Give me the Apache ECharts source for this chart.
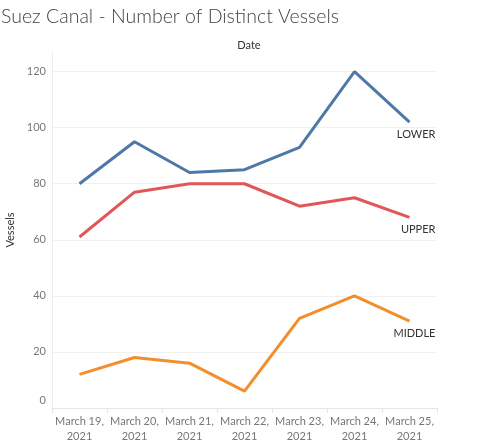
<!DOCTYPE html>
<html><head><meta charset="utf-8">
<script src="https://cdn.jsdelivr.net/npm/echarts@6/dist/echarts.min.js"></script>
<style>html,body{margin:0;padding:0;background:#fff}#c{width:500px;height:448px}</style>
</head><body><div id="c"></div>
<script>
const categories = ['March 19,\n2021','March 20,\n2021','March 21,\n2021','March 22,\n2021','March 23,\n2021','March 24,\n2021','March 25,\n2021'];
const lower = [80, 95, 84, 85, 93, 120, 102];
const upper = [61, 77, 80, 80, 72, 75, 68];
const middle = [12, 18, 16, 6, 32, 40, 31];
const seriesNames = ['LOWER', 'UPPER', 'MIDDLE'];
const seriesColors = ['#4e79a7', '#e15759', '#f28e2b'];
const seriesData = [lower, upper, middle];

const chart = echarts.init(document.getElementById('c'), null, {renderer: 'canvas'});
const font = 'Lato, "Open Sans", sans-serif';
chart.setOption({
  animation: false,
  backgroundColor: '#fff',
  title: [
    {text: 'Suez Canal - Number of Distinct Vessels', left: -4, top: 2,
     textStyle: {fontFamily: font, fontWeight: 300, fontSize: 19.5, color: '#444'}},
    {text: 'Date', left: 244, top: 35, textAlign: 'center',
     textStyle: {fontFamily: font, fontWeight: 'normal', fontSize: 11, color: '#333'}}
  ],
  grid: {left: 52, right: 63, top: 52, bottom: 40, containLabel: false, outerBoundsMode: 'none'},
  xAxis: {
    type: 'category', data: categories, boundaryGap: true,
    axisLine: {show: true, lineStyle: {color: '#e6e6e6', width: 1}},
    axisTick: {show: true, length: 5, lineStyle: {color: '#e6e6e6'}},
    axisLabel: {fontFamily: font, fontSize: 11, color: '#777', lineHeight: 15, margin: 6, interval: 0}
  },
  yAxis: {
    type: 'value', min: 0, max: 127, interval: 20,
    name: 'Vessels', nameLocation: 'middle', nameRotate: 90, nameGap: 36,
    nameTextStyle: {fontFamily: font, fontSize: 11, color: '#333'},
    axisLine: {show: true, lineStyle: {color: '#eeeeee'}},
    axisTick: {show: false},
    axisLabel: {fontFamily: font, fontSize: 11, color: '#777', margin: 6, showMaxLabel: false,
      formatter: v => v === 0 ? '{z|0}' : String(v),
      rich: {z: {fontFamily: font, fontSize: 11, color: '#777', padding: [0, 0, 16, 0]}}},
    splitLine: {show: true, showMaxLine: false, showMinLine: false, lineStyle: {color: '#f0f0f0', width: 1}}
  },
  series: seriesNames.map((name, i) => ({
    name: name, type: 'line', data: seriesData[i],
    showSymbol: true, symbol: 'circle', symbolSize: 0.1,
    lineStyle: {color: seriesColors[i], width: 3},
    itemStyle: {color: seriesColors[i]},
    label: {show: true, position: [26, 12], align: 'right', verticalAlign: 'middle',
      fontFamily: font, fontSize: 11, color: '#333',
      formatter: p => p.dataIndex === categories.length - 1 ? name : ''}
  }))
});
</script></body></html>
